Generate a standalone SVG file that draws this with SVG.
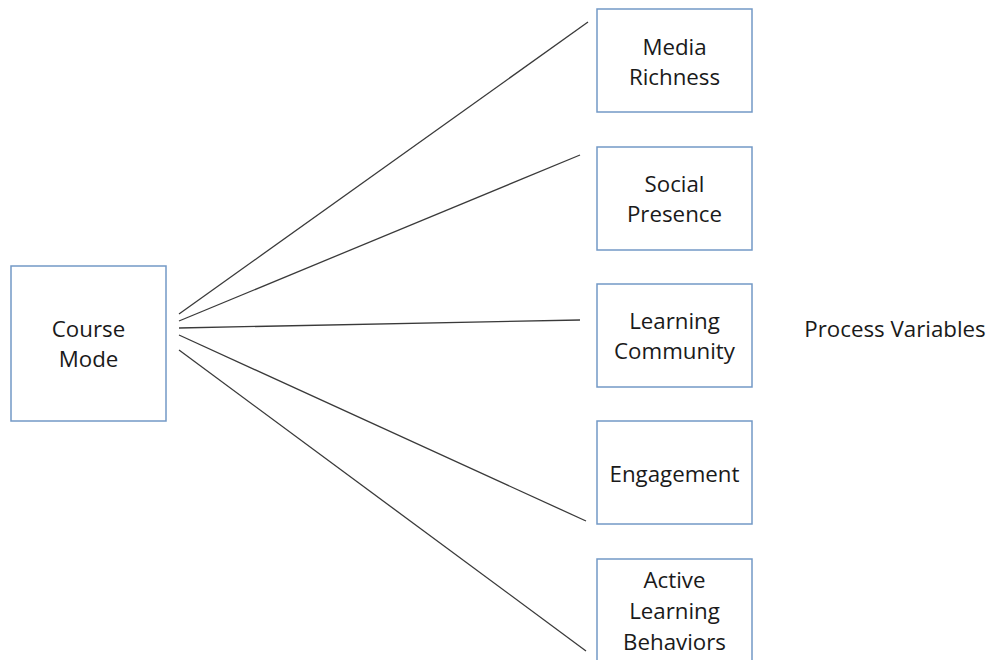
<svg xmlns="http://www.w3.org/2000/svg" width="990" height="660" viewBox="0 0 990 660">
<style>
.box{fill:#fff;stroke:#7399c6;stroke-width:1.5}
.t{font-family:"Open Sans","Liberation Sans",sans-serif;font-size:22.3px;fill:#1a1a1a;text-anchor:middle}
.c line{stroke:#3a3a3a;stroke-width:1.3}
</style>
<rect width="990" height="660" fill="#fff"/>
<g class="c" id="connectors">
<line x1="179" y1="314" x2="588" y2="22"/>
<line x1="179" y1="321" x2="580" y2="155"/>
<line x1="179" y1="328" x2="580" y2="320"/>
<line x1="179" y1="335" x2="586" y2="521"/>
<line x1="179" y1="350" x2="586" y2="651"/>
</g>
<g id="course-mode"><rect class="box" x="11" y="266" width="155" height="155"/><text class="t" x="88.5" y="337">Course</text><text class="t" x="88.5" y="367">Mode</text></g>
<g id="media-richness"><rect class="box" x="597" y="9" width="155" height="103"/><text class="t" x="674.5" y="55">Media</text><text class="t" x="674.5" y="85">Richness</text></g>
<g id="social-presence"><rect class="box" x="597" y="147" width="155" height="103"/><text class="t" x="674.5" y="192">Social</text><text class="t" x="674.5" y="222">Presence</text></g>
<g id="learning-community"><rect class="box" x="597" y="284" width="155" height="103"/><text class="t" x="674.5" y="329">Learning</text><text class="t" x="674.5" y="359">Community</text></g>
<g id="engagement"><rect class="box" x="597" y="421" width="155" height="103"/><text class="t" x="674.5" y="482">Engagement</text></g>
<g id="active-learning"><rect class="box" x="597" y="559" width="155" height="110"/><text class="t" x="674.5" y="588">Active</text><text class="t" x="674.5" y="619">Learning</text><text class="t" x="674.5" y="650">Behaviors</text></g>
<text class="t" x="895" y="337">Process Variables</text>
</svg>
